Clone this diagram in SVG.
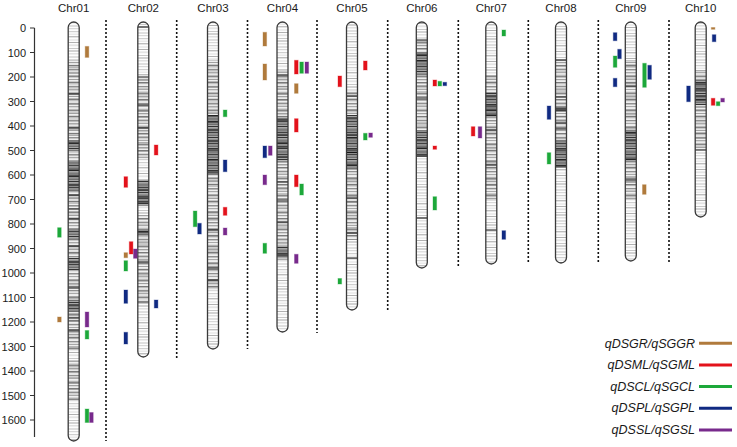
<svg xmlns="http://www.w3.org/2000/svg" width="737" height="447" viewBox="0 0 737 447">
<style>
text{font-family:"Liberation Sans",Arial,sans-serif;fill:#1a1a1a}
.ax{font-size:11px;text-anchor:end}
.cl{font-size:11.5px;text-anchor:middle}
.lg{font-size:12.5px;font-style:italic;text-anchor:end}
.sep{stroke:#111;stroke-width:1.6;stroke-dasharray:2 2;fill:none}
.out{fill:none;stroke:#3a3a3a;stroke-width:1.3}
.blk{stroke:#161616;stroke-width:1.1;fill:none}
.q{stroke-width:1;stroke-opacity:.35}
.br{fill:#b07a3c;stroke:#b07a3c}
.rd{fill:#e3121b;stroke:#e3121b}
.gn{fill:#1ca83a;stroke:#1ca83a}
.nv{fill:#102a82;stroke:#102a82}
.pu{fill:#782a8c;stroke:#782a8c}
</style>
<defs>
<pattern id="pa" patternUnits="userSpaceOnUse" width="737" height="31">
<rect width="737" height="31" fill="#fdfdfd"/>
<rect y="0" width="737" height="1.2" fill="#cfcfcf"/>
<rect y="2.6" width="737" height="1.2" fill="#e6e6e6"/>
<rect y="5" width="737" height="1.4" fill="#bdbdbd"/>
<rect y="8.5" width="737" height="1" fill="#dedede"/>
<rect y="11" width="737" height="1" fill="#b0b0b0"/>
<rect y="13.4" width="737" height="1.8" fill="#e4e4e4"/>
<rect y="17" width="737" height="1" fill="#c8c8c8"/>
<rect y="19.5" width="737" height="1" fill="#a8a8a8"/>
<rect y="22" width="737" height="1.5" fill="#e0e0e0"/>
<rect y="25.5" width="737" height="1" fill="#c2c2c2"/>
<rect y="28" width="737" height="1.2" fill="#d8d8d8"/>
</pattern>
<pattern id="pb" patternUnits="userSpaceOnUse" width="737" height="17">
<rect width="737" height="17" fill="#909090" fill-opacity=".12"/>
<rect y="1" width="737" height="1.3" fill="#8f8f8f"/>
<rect y="4" width="737" height="1" fill="#a8a8a8"/>
<rect y="7.5" width="737" height="1.8" fill="#858585"/>
<rect y="11" width="737" height="1" fill="#a0a0a0"/>
<rect y="14" width="737" height="1.4" fill="#7a7a7a"/>
</pattern>
<pattern id="pc" patternUnits="userSpaceOnUse" width="737" height="11">
<rect width="737" height="11" fill="#a8a8a8"/>
<rect y="0" width="737" height="1.2" fill="#404040"/>
<rect y="2.5" width="737" height="1.5" fill="#707070"/>
<rect y="5" width="737" height="1" fill="#333"/>
<rect y="7.5" width="737" height="1.5" fill="#7a7a7a"/>
<rect y="9.5" width="737" height="0.8" fill="#555"/>
</pattern>
</defs>

<g id="axis">
<path d="M34.5 28V437M30 28h4.5M30 52.5h4.5M30 77h4.5M30 101.5h4.5M30 126h4.5M30 150.5h4.5M30 175h4.5M30 199.5h4.5M30 224h4.5M30 248.5h4.5M30 273h4.5M30 297.5h4.5M30 322h4.5M30 346.5h4.5M30 371h4.5M30 395.5h4.5M30 420h4.5" stroke="#333" stroke-width="1.2" fill="none"/>
<text class="ax" x="26" y="32">0</text>
<text class="ax" x="26" y="56.5">100</text>
<text class="ax" x="26" y="81">200</text>
<text class="ax" x="26" y="105.5">300</text>
<text class="ax" x="26" y="130">400</text>
<text class="ax" x="26" y="154.5">500</text>
<text class="ax" x="26" y="179">600</text>
<text class="ax" x="26" y="203.5">700</text>
<text class="ax" x="26" y="228">800</text>
<text class="ax" x="26" y="252.5">900</text>
<text class="ax" x="26" y="277">1000</text>
<text class="ax" x="26" y="301.5">1100</text>
<text class="ax" x="26" y="326">1200</text>
<text class="ax" x="26" y="350.5">1300</text>
<text class="ax" x="26" y="375">1400</text>
<text class="ax" x="26" y="399.5">1500</text>
<text class="ax" x="26" y="424">1600</text>
</g>

<g id="separators">
<path class="sep" d="M106 20V441M176.7 20V358M247.5 20V349M317 20V333M387.7 20V310M458.3 20V268M528.3 20V264M598.3 20V263M669 20V262"/>
</g>

<g id="chr01">
<text class="cl" x="73.7" y="12.3">Chr01</text>
<rect x="68.2" y="22" width="11" height="419" rx="5.5" fill="url(#pa)"/>
<path fill="url(#pb)" d="M68.2 60h11v60h-11zM68.2 120h11v230h-11zM68.2 360h11v40h-11z"/>
<path fill="url(#pc)" d="M68.2 140h11v10h-11zM68.2 160h11v32h-11zM68.2 230h11v10h-11zM68.2 258h11v12h-11zM68.2 300h11v12h-11z"/>
<path class="blk" d="M68.2 94h11M68.2 128h11M68.2 143h11M68.2 170h11M68.2 176h11M68.2 185h11M68.2 195h11M68.2 209h11M68.2 219h11M68.2 246h11M68.2 262h11M68.2 288h11M68.2 305h11M68.2 318h11M68.2 330h11"/>
<rect class="out" x="68.2" y="22" width="11" height="419" rx="5.5"/>
</g>

<g id="chr02">
<text class="cl" x="143.3" y="12.3">Chr02</text>
<rect x="137.8" y="15" width="11" height="335" rx="5.5" fill="url(#pa)" transform="translate(0,7)"/>
<path fill="url(#pb)" d="M137.8 78h11v82h-11zM137.8 215h11v85h-11z"/>
<path fill="url(#pc)" d="M137.8 180h11v26h-11zM137.8 230h11v6h-11z"/>
<path class="blk" d="M137.8 27h11M137.8 77h11M137.8 105h11M137.8 128h11M137.8 190h11M137.8 197h11M137.8 202h11M137.8 232h11M137.8 262h11M137.8 302h11"/>
<rect class="out" x="137.8" y="22" width="11" height="335" rx="5.5"/>
</g>

<g id="chr03">
<text class="cl" x="213" y="12.3">Chr03</text>
<rect x="207.5" y="8" width="11" height="327" rx="5.5" fill="url(#pa)" transform="translate(0,14)"/>
<path fill="url(#pb)" d="M207.5 60h11v55h-11zM207.5 175h11v115h-11z"/>
<path fill="url(#pc)" d="M207.5 115h11v60h-11z"/>
<path class="blk" d="M207.5 116h11M207.5 122h11M207.5 130h11M207.5 141h11M207.5 150h11M207.5 160h11M207.5 172h11M207.5 230h11M207.5 268h11M207.5 280h11"/>
<rect class="out" x="207.5" y="22" width="11" height="327" rx="5.5"/>
</g>

<g id="chr04">
<text class="cl" x="282.5" y="12.3">Chr04</text>
<rect x="277" y="1" width="11" height="310" rx="5.5" fill="url(#pa)" transform="translate(0,21)"/>
<path fill="url(#pb)" d="M277 70h11v48h-11zM277 160h11v100h-11z"/>
<path fill="url(#pc)" d="M277 118h11v42h-11zM277 246h11v12h-11z"/>
<path class="blk" d="M277 75h11M277 120h11M277 135h11M277 143h11M277 147h11M277 157h11M277 182h11M277 200h11M277 222h11M277 255h11"/>
<rect class="out" x="277" y="22" width="11" height="310" rx="5.5"/>
</g>

<g id="chr05">
<text class="cl" x="352" y="12.3">Chr05</text>
<rect x="346.5" y="17" width="11" height="288" rx="5.5" fill="url(#pa)" transform="translate(0,5)"/>
<path fill="url(#pb)" d="M346.5 90h11v25h-11zM346.5 170h11v70h-11z"/>
<path fill="url(#pc)" d="M346.5 115h11v55h-11z"/>
<path class="blk" d="M346.5 96h11M346.5 118h11M346.5 135h11M346.5 138h11M346.5 150h11M346.5 152.5h11M346.5 165h11M346.5 198h11M346.5 233h11M346.5 258h11"/>
<rect class="out" x="346.5" y="22" width="11" height="288" rx="5.5"/>
</g>

<g id="chr06">
<text class="cl" x="421.8" y="12.3">Chr06</text>
<rect x="416.3" y="10" width="11" height="246" rx="5.5" fill="url(#pa)" transform="translate(0,12)"/>
<path fill="url(#pb)" d="M416.3 40h11v12h-11zM416.3 75h11v55h-11z"/>
<path fill="url(#pc)" d="M416.3 52h11v23h-11zM416.3 130h11v27h-11z"/>
<path class="blk" d="M416.3 40h11M416.3 55h11M416.3 61h11M416.3 98h11M416.3 140h11M416.3 148h11M416.3 156h11M416.3 218h11"/>
<rect class="out" x="416.3" y="22" width="11" height="246" rx="5.5"/>
</g>

<g id="chr07">
<text class="cl" x="491.3" y="12.3">Chr07</text>
<rect x="485.8" y="3" width="11" height="242" rx="5.5" fill="url(#pa)" transform="translate(0,19)"/>
<path fill="url(#pb)" d="M485.8 75h11v18h-11zM485.8 117h11v83h-11z"/>
<path fill="url(#pc)" d="M485.8 93h11v24h-11z"/>
<path class="blk" d="M485.8 96h11M485.8 106h11M485.8 110h11M485.8 115h11M485.8 130h11M485.8 165h11M485.8 230h11"/>
<rect class="out" x="485.8" y="22" width="11" height="242" rx="5.5"/>
</g>

<g id="chr08">
<text class="cl" x="561" y="12.3">Chr08</text>
<rect x="555.5" y="13" width="11" height="241" rx="5.5" fill="url(#pa)" transform="translate(0,9)"/>
<path fill="url(#pb)" d="M555.5 60h11v80h-11z"/>
<path fill="url(#pc)" d="M555.5 140h11v28h-11zM555.5 106h11v6h-11z"/>
<path class="blk" d="M555.5 60h11M555.5 97h11M555.5 109h11M555.5 123h11M555.5 129h11M555.5 150h11M555.5 160h11M555.5 166h11"/>
<rect class="out" x="555.5" y="22" width="11" height="241" rx="5.5"/>
</g>

<g id="chr09">
<text class="cl" x="630.8" y="12.3">Chr09</text>
<rect x="625.3" y="6" width="11" height="239" rx="5.5" fill="url(#pa)" transform="translate(0,16)"/>
<path fill="url(#pb)" d="M625.3 60h11v70h-11zM625.3 160h11v40h-11z"/>
<path fill="url(#pc)" d="M625.3 130h11v30h-11z"/>
<path class="blk" d="M625.3 86h11M625.3 133h11M625.3 140h11M625.3 159h11M625.3 180h11"/>
<rect class="out" x="625.3" y="22" width="11" height="239" rx="5.5"/>
</g>

<g id="chr10">
<text class="cl" x="700.7" y="12.3">Chr10</text>
<rect x="695.2" y="19" width="11" height="195" rx="5.5" fill="url(#pa)" transform="translate(0,3)"/>
<path fill="url(#pb)" d="M695.2 70h11v10h-11zM695.2 105h11v45h-11z"/>
<path fill="url(#pc)" d="M695.2 80h11v25h-11z"/>
<path class="blk" d="M695.2 84h11M695.2 90h11M695.2 96h11M695.2 100h11M695.2 150h11"/>
<rect class="out" x="695.2" y="22" width="11" height="195" rx="5.5"/>
</g>

<g id="qtls">
<rect class="q br" x="85.2" y="46.4" width="3.6" height="11"/>
<rect class="q gn" x="57.6" y="227.7" width="3.6" height="9.5"/>
<rect class="q br" x="57.6" y="317" width="3.6" height="5"/>
<rect class="q pu" x="85.2" y="312" width="3.6" height="15"/>
<rect class="q gn" x="85.2" y="330.5" width="3.6" height="8.5"/>
<rect class="q gn" x="85.2" y="409" width="3.6" height="13.5"/>
<rect class="q pu" x="89.6" y="412.5" width="3.6" height="10"/>

<rect class="q rd" x="154.3" y="145" width="3.6" height="10"/>
<rect class="q rd" x="124" y="176.7" width="3.6" height="10.6"/>
<rect class="q rd" x="129.3" y="241.7" width="3.6" height="12.3"/>
<rect class="q br" x="124" y="252.7" width="3.6" height="5"/>
<rect class="q pu" x="133.5" y="249" width="3.6" height="9.3"/>
<rect class="q gn" x="124" y="260.7" width="3.6" height="10.3"/>
<rect class="q nv" x="124" y="290" width="3.6" height="13.3"/>
<rect class="q nv" x="154.3" y="300" width="3.6" height="8"/>
<rect class="q nv" x="124" y="332.3" width="3.6" height="11.7"/>

<rect class="q gn" x="223.3" y="110" width="3.6" height="6.7"/>
<rect class="q nv" x="223.3" y="160" width="3.6" height="11.7"/>
<rect class="q rd" x="223.3" y="207.3" width="3.6" height="8"/>
<rect class="q gn" x="193.3" y="211" width="3.6" height="15.7"/>
<rect class="q nv" x="197.7" y="223.3" width="3.6" height="10.7"/>
<rect class="q pu" x="223.3" y="228" width="3.6" height="7"/>

<rect class="q br" x="263" y="32.3" width="3.6" height="13.7"/>
<rect class="q br" x="263" y="64" width="3.6" height="16"/>
<rect class="q rd" x="294.5" y="60.3" width="3.6" height="13.7"/>
<rect class="q gn" x="299.8" y="62" width="3.6" height="11.3"/>
<rect class="q pu" x="305" y="62" width="3.6" height="11.3"/>
<rect class="q br" x="294.5" y="83.7" width="3.6" height="9.6"/>
<rect class="q rd" x="294.5" y="118.7" width="3.6" height="13.3"/>
<rect class="q nv" x="263" y="146" width="3.6" height="11.7"/>
<rect class="q pu" x="268.5" y="146" width="3.6" height="9.3"/>
<rect class="q pu" x="263" y="175" width="3.6" height="9.7"/>
<rect class="q rd" x="294.5" y="175" width="3.6" height="11.7"/>
<rect class="q gn" x="299.8" y="184" width="3.6" height="11"/>
<rect class="q gn" x="263" y="243.3" width="3.6" height="10"/>
<rect class="q pu" x="294.5" y="254.3" width="3.6" height="9"/>

<rect class="q rd" x="363.5" y="61" width="3.6" height="9"/>
<rect class="q rd" x="338" y="76" width="3.6" height="10.7"/>
<rect class="q gn" x="363.5" y="133.3" width="3.6" height="6.7"/>
<rect class="q pu" x="368.8" y="133" width="3.6" height="4.3"/>
<rect class="q gn" x="338" y="278.5" width="3.6" height="5.5"/>

<rect class="q rd" x="433" y="80" width="3.6" height="6"/>
<rect class="q gn" x="438" y="81.3" width="3.6" height="4.7"/>
<rect class="q nv" x="443" y="82.3" width="3.6" height="3.4"/>
<rect class="q rd" x="433" y="146" width="3.6" height="3.3"/>
<rect class="q gn" x="433" y="196.7" width="3.6" height="13.3"/>

<rect class="q gn" x="502" y="30" width="3.6" height="6"/>
<rect class="q rd" x="471.3" y="126.7" width="3.6" height="9.3"/>
<rect class="q pu" x="478.2" y="126.7" width="3.6" height="11.3"/>
<rect class="q nv" x="502" y="230.7" width="3.6" height="8.6"/>

<rect class="q nv" x="547.2" y="106" width="3.6" height="13.3"/>
<rect class="q gn" x="547.2" y="152.7" width="3.6" height="11.3"/>

<rect class="q nv" x="613.3" y="32.7" width="3.6" height="8"/>
<rect class="q nv" x="617.7" y="49.3" width="3.6" height="9.4"/>
<rect class="q gn" x="613.3" y="56" width="3.6" height="11.3"/>
<rect class="q nv" x="613.3" y="78.3" width="3.6" height="8.4"/>
<rect class="q gn" x="642.7" y="63.3" width="3.6" height="24"/>
<rect class="q nv" x="647.8" y="65.3" width="3.6" height="14"/>
<rect class="q br" x="642.5" y="184.7" width="3.6" height="9.6"/>

<rect class="q br" x="711.3" y="27.5" width="3.6" height="1.8"/>
<rect class="q nv" x="712.3" y="34.7" width="3.6" height="7"/>
<rect class="q nv" x="686.7" y="86" width="3.6" height="15.7"/>
<rect class="q rd" x="711.3" y="98.3" width="3.6" height="7"/>
<rect class="q gn" x="716.3" y="101.7" width="3.6" height="4"/>
<rect class="q pu" x="720.8" y="98.3" width="3.6" height="3.7"/>
</g>

<g id="legend">
<text class="lg" x="695" y="347.5">qDSGR/qSGGR</text>
<text class="lg" x="695" y="369">qDSML/qSGML</text>
<text class="lg" x="695" y="390.5">qDSCL/qSGCL</text>
<text class="lg" x="695" y="412">qDSPL/qSGPL</text>
<text class="lg" x="695" y="433.5">qDSSL/qSGSL</text>
<path d="M699 343.3h33" stroke="#b07a3c" stroke-width="3"/>
<path d="M699 365h33" stroke="#e3121b" stroke-width="3"/>
<path d="M699 386.6h33" stroke="#1ca83a" stroke-width="3"/>
<path d="M699 408.3h33" stroke="#102a82" stroke-width="3"/>
<path d="M699 430h33" stroke="#782a8c" stroke-width="3"/>
</g>
</svg>
